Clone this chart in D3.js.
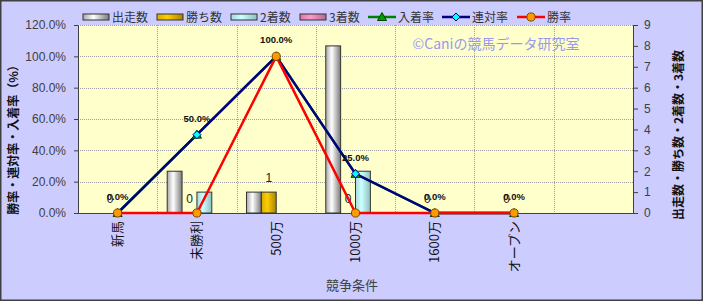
<head>
<meta charset="utf-8">
<style> body { margin: 0; background: #fff; } text { font-family: "Liberation Sans", "Noto Sans CJK JP", sans-serif; } </style>
<script src="https://cdn.jsdelivr.net/npm/d3@7"></script>
</head>
<body>
<div id="chart"></div>
<script>
// categories (7th slot is an empty category, as in the original)
var categories = ["新馬", "未勝利", "500万", "1000万", "1600万", "オープン", ""];

// bar series (counts)
var starts  = [0, 2, 1, 8, 0, 0];   // 出走数
var wins    = [0, 0, 1, 0, 0, 0];   // 勝ち数
var seconds = [0, 1, 0, 2, 0, 0];   // 2着数
var thirds  = [0, 0, 0, 0, 0, 0];   // 3着数

// line series (rates)
var placeRate  = [0, 0.5, 1, 0.25, 0, 0]; // 入着率
var top2Rate   = [0, 0.5, 1, 0.25, 0, 0]; // 連対率
var winRate    = [0, 0, 1, 0, 0, 0];      // 勝率

var leftTicks  = [0, 0.2, 0.4, 0.6, 0.8, 1.0, 1.2];
var rightTicks = [0, 1, 2, 3, 4, 5, 6, 7, 8, 9];

var W = 703, H = 301;
var margin = { top: 25, left: 78, right: 70, bottom: 88 };
var width = W - margin.left - margin.right,
    height = H - margin.top - margin.bottom;

var svg = d3.select("#chart").append("svg")
    .attr("width", W)
    .attr("height", H);

svg.append("rect")
    .attr("x", 0.75).attr("y", 0.75)
    .attr("width", W - 1.5).attr("height", H - 1.5)
    .attr("fill", "#ccccff")
    .attr("stroke", "#404040")
    .attr("stroke-width", 1.5);

var defs = svg.append("defs");
function cylinder(id, edgeL, mid, edgeR) {
    var g = defs.append("linearGradient").attr("id", id)
        .attr("x1", "0%").attr("x2", "100%").attr("y1", "0%").attr("y2", "0%");
    g.append("stop").attr("offset", "0%").attr("stop-color", edgeL);
    g.append("stop").attr("offset", "40%").attr("stop-color", mid);
    g.append("stop").attr("offset", "100%").attr("stop-color", edgeR);
}
cylinder("gStarts", "#a8a8a8", "#ffffff", "#7a7a7a");
cylinder("gWins", "#d9ac00", "#ffcc00", "#a68400");
cylinder("gSeconds", "#a6d9d9", "#ccffff", "#8fbfbf");
cylinder("gThirds", "#d97aa6", "#ff99cc", "#b36b8f");

var barSeries = [
    { name: "出走数", values: starts,  fill: "url(#gStarts)" },
    { name: "勝ち数", values: wins,    fill: "url(#gWins)" },
    { name: "2着数",  values: seconds, fill: "url(#gSeconds)" },
    { name: "3着数",  values: thirds,  fill: "url(#gThirds)" }
];
var lineSeries = [
    { name: "入着率", values: placeRate, color: "#008000", marker: "triangle", mfill: "#00a000" },
    { name: "連対率", values: top2Rate,  color: "#000080", marker: "diamond",  mfill: "#00ffff" },
    { name: "勝率",   values: winRate,   color: "#ff0000", marker: "circle",   mfill: "#ff9900" }
];

var focus = svg.append("g")
    .attr("transform", `translate(${margin.left},${margin.top})`);

focus.append("rect")
    .attr("width", width).attr("height", height)
    .attr("fill", "#ffffcc");

var x = d3.scaleBand().domain(categories.map((d, i) => i)).range([0, width]).padding(0);
var bw = x.bandwidth();
var groupW = bw * 0.75;
var x1 = d3.scaleBand().domain(barSeries.map(d => d.name)).range([0, groupW]);

var yL = d3.scaleLinear().domain([0, 1.2]).range([height, 0]);
var yR = d3.scaleLinear().domain([0, 9]).range([height, 0]);

// grid
focus.append("g").selectAll("line").data(leftTicks.slice(1)).enter().append("line")
    .attr("x1", 0).attr("x2", width)
    .attr("y1", d => Math.round(yL(d)) + 0.5).attr("y2", d => Math.round(yL(d)) + 0.5)
    .attr("stroke", "#a0a0a0").attr("stroke-dasharray", "1,1");
focus.append("g").selectAll("line").data(d3.range(1, categories.length)).enter().append("line")
    .attr("x1", d => Math.round(x(d)) + 0.5).attr("x2", d => Math.round(x(d)) + 0.5)
    .attr("y1", 0).attr("y2", height)
    .attr("stroke", "#a0a0a0").attr("stroke-dasharray", "1,1");

focus.append("text")
    .attr("x", 418).attr("y", 24)
    .attr("text-anchor", "middle")
    .attr("fill", "#9999ee")
    .style("font-size", "14px")
    .style("font-family", "'Noto Sans CJK JP', sans-serif")
    .text("©Caniの競馬データ研究室");

// axes
var axL = focus.append("g")
    .call(d3.axisLeft(yL).tickValues(leftTicks).tickFormat(d3.format(".1%")).tickSize(4).tickPadding(8));
var axR = focus.append("g")
    .attr("transform", `translate(${width},0)`)
    .call(d3.axisRight(yR).tickValues(rightTicks).tickFormat(d3.format("d")).tickSize(5).tickPadding(6));
[axL, axR].forEach(a => {
    a.select(".domain").attr("stroke", "#404040");
    a.selectAll("line").attr("stroke", "#404040");
    a.selectAll("text").attr("fill", "#404040").style("font-size", "12px");
});
focus.append("line")
    .attr("x1", 0).attr("x2", width).attr("y1", height + 0.5).attr("y2", height + 0.5)
    .attr("stroke", "#404040");

// bars
var groups = focus.append("g").selectAll("g").data(barSeries).enter().append("g");
groups.selectAll("rect")
    .data(s => s.values.map((v, i) => ({ s: s, v: v, i: i })).filter(d => d.v > 0))
    .enter().append("rect")
    .attr("x", d => x(d.i) + (bw - groupW) / 2 + x1(d.s.name))
    .attr("width", x1.bandwidth())
    .attr("y", d => yR(d.v))
    .attr("height", d => yR(0) - yR(d.v))
    .attr("fill", d => d.s.fill)
    .attr("stroke", "#333")
    .attr("stroke-width", 1);

// win-count labels
focus.append("g").selectAll("text").data(wins).enter().append("text")
    .attr("x", (d, i) => x(i) + (bw - groupW) / 2 + x1("勝ち数") + x1.bandwidth() / 2)
    .attr("y", d => yR(d) - 10)
    .attr("text-anchor", "middle")
    .style("font-size", "12px")
    .attr("fill", "#222")
    .text(d => d);

// lines
function markerPath(type) {
    if (type === "triangle") return "M0,-4.5L4.5,3.5L-4.5,3.5Z";
    if (type === "diamond") return "M0,-4L4,0L0,4L-4,0Z";
    return d3.symbol().type(d3.symbolCircle).size(52)();
}
var line = d3.line().x((d, i) => x(i) + bw / 2).y(d => yL(d));
lineSeries.forEach(s => {
    focus.append("path")
        .datum(s.values)
        .attr("d", line)
        .attr("fill", "none")
        .attr("stroke", s.color)
        .attr("stroke-width", 2.5);
});
lineSeries.forEach(s => {
    focus.append("g").selectAll("path").data(s.values).enter().append("path")
        .attr("d", markerPath(s.marker))
        .attr("transform", (d, i) => `translate(${x(i) + bw / 2},${yL(d)})`)
        .attr("fill", s.mfill)
        .attr("stroke", s.marker === "circle" ? "#7a4a00" : (s.marker === "diamond" ? "#000080" : "#004000"))
        .attr("stroke-width", 1);
});

// rate labels
focus.append("g").selectAll("text").data(top2Rate).enter().append("text")
    .attr("x", (d, i) => x(i) + bw / 2)
    .attr("y", d => yL(d) - 13)
    .attr("text-anchor", "middle")
    .style("font-size", "9.5px")
    .style("font-weight", "bold")
    .attr("fill", "#111")
    .text(d => d3.format(".1%")(d));

// category labels
focus.append("g").selectAll("text").data(categories).enter().append("text")
    .attr("transform", (d, i) => `translate(${x(i) + bw / 2},${height + 8}) rotate(-90)`)
    .attr("text-anchor", "end")
    .attr("dy", "0.35em")
    .style("font-size", "13px")
    .style("font-family", "'Noto Sans CJK JP', sans-serif")
    .attr("fill", "#111")
    .text(d => d);

// axis titles
svg.append("text")
    .attr("transform", "translate(14,137) rotate(-90)")
    .attr("text-anchor", "middle")
    .attr("dy", "0.35em")
    .style("font-size", "12px")
    .style("font-weight", "bold")
    .style("font-family", "'Noto Sans CJK JP', sans-serif")
    .attr("fill", "#111")
    .text("勝率・連対率・入着率（%）");
svg.append("text")
    .attr("transform", "translate(679,135) rotate(-90)")
    .attr("text-anchor", "middle")
    .attr("dy", "0.35em")
    .style("font-size", "12px")
    .style("font-weight", "bold")
    .style("font-family", "'Noto Sans CJK JP', sans-serif")
    .attr("fill", "#111")
    .text("出走数・勝ち数・2着数・3着数");
svg.append("text")
    .attr("x", 352).attr("y", 290)
    .attr("text-anchor", "middle")
    .style("font-size", "13px")
    .style("font-family", "'Noto Sans CJK JP', sans-serif")
    .attr("fill", "#404040")
    .text("競争条件");

// legend
var legendX = [83, 157, 231, 300, 368, 442, 517];
var legendItems = barSeries.map(s => ({ s: s, bar: true })).concat(lineSeries.map(s => ({ s: s, bar: false })));
var leg = svg.append("g").selectAll("g").data(legendItems).enter().append("g")
    .attr("transform", (d, i) => `translate(${legendX[i]},17)`);
leg.filter(d => d.bar).append("rect")
    .attr("x", 0).attr("y", -3).attr("width", 26).attr("height", 6)
    .attr("fill", d => d.s.fill).attr("stroke", "#333");
leg.filter(d => !d.bar).append("line")
    .attr("x1", 0).attr("x2", 28).attr("y1", 0).attr("y2", 0)
    .attr("stroke", d => d.s.color).attr("stroke-width", 2.5);
leg.filter(d => !d.bar).append("path")
    .attr("d", d => markerPath(d.s.marker))
    .attr("transform", "translate(14,0)")
    .attr("fill", d => d.s.mfill)
    .attr("stroke", d => d.s.marker === "circle" ? "#7a4a00" : (d.s.marker === "diamond" ? "#000080" : "#004000"));
leg.append("text")
    .attr("x", d => d.bar ? 29 : 30)
    .attr("y", 0)
    .attr("dy", "0.38em")
    .style("font-size", "12px")
    .style("font-family", "'Noto Sans CJK JP', sans-serif")
    .attr("fill", "#333")
    .text(d => d.s.name);
</script>
</body>
